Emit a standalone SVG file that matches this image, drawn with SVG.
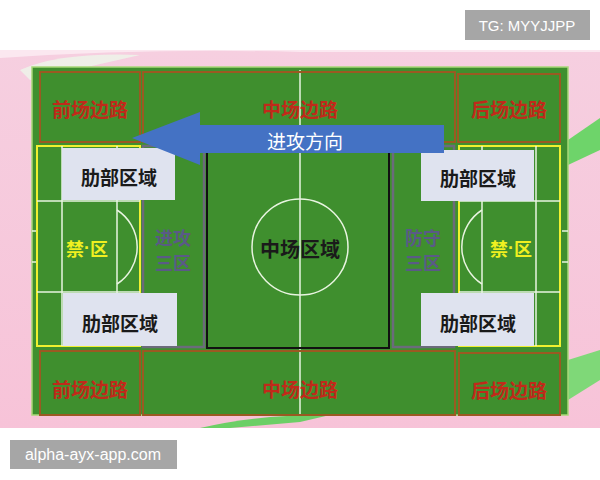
<svg xmlns="http://www.w3.org/2000/svg" width="600" height="480" viewBox="0 0 600 480">
<defs>
<style>
.cjk{font-family:"Noto Sans CJK SC","Noto Sans",sans-serif;font-weight:bold;text-anchor:middle;dominant-baseline:central}
.red{fill:#c02a1a;font-size:19px}
.band{fill:#3f8f2e;stroke:#9a5a22;stroke-width:2}
.wl{stroke:#e8f4e0;stroke-width:1.5;fill:none}
.box{fill:#dfe3ef}
.dark{fill:#1a1a1a;font-size:19px}
.yel{fill:#f0f020;font-size:18px}
.dot{font-family:"Liberation Sans",Arial,sans-serif}
.third{fill:#5a5a86;font-size:18px}
.wm{fill:#a6a6a6}
.wmt{font-family:"Liberation Sans",Arial,sans-serif;fill:#ffffff;font-size:15px}
</style>
<linearGradient id="pk" x1="0" y1="0" x2="0" y2="1">
<stop offset="0" stop-color="#f6cfe0"/>
<stop offset="1" stop-color="#f7c3d8"/>
</linearGradient>
</defs>
<rect width="600" height="480" fill="#ffffff"/>
<g id="background">
<rect x="0" y="50" width="600" height="378" fill="url(#pk)"/>
<path d="M0 58 Q150 48 300 52 L600 52 L600 50 L0 50 Z" fill="#fbe8f0"/>
<path d="M20 70 Q60 52 140 55 L30 80 Z" fill="#eef6ea" opacity="0.8"/>
<path d="M568 140 L600 118 L600 150 L568 165 Z" fill="#6ed46a"/>
<path d="M568 360 L600 350 L600 380 L568 400 Z" fill="#7fd878"/>
<path d="M200 428 Q260 414 330 415 L300 422 L230 428 Z" fill="#6ccf66"/>
</g>
<g id="field">
<rect x="32" y="67" width="536" height="348" fill="#3f8f2e" stroke="#a8d878" stroke-width="1.5"/>
<line x1="300" y1="70" x2="300" y2="415" class="wl"/>
<line x1="32" y1="231" x2="37" y2="231" class="wl"/>
<line x1="32" y1="262" x2="37" y2="262" class="wl"/>
<line x1="562" y1="231" x2="568" y2="231" class="wl"/>
<line x1="562" y1="262" x2="568" y2="262" class="wl"/>
</g>
<g id="top-front-wing">
<rect x="40" y="72" width="100" height="70" class="band"/>
<text x="90" y="108" class="cjk red">前场边路</text>
</g>
<g id="top-mid-wing">
<rect x="143" y="72" width="312" height="70" class="band" fill-opacity="0"/>
<text x="300" y="108" class="cjk red">中场边路</text>
</g>
<g id="top-back-wing">
<rect x="458" y="74" width="102" height="68" class="band"/>
<text x="509" y="108" class="cjk red">后场边路</text>
</g>
<g id="left-penalty">
<rect x="37" y="146" width="103" height="200" fill="none" stroke="#f0f030" stroke-width="2"/>
<line x1="37" y1="201" x2="140" y2="201" class="wl"/>
<line x1="37" y1="292" x2="140" y2="292" class="wl"/>
<line x1="62" y1="146" x2="62" y2="346" class="wl"/>
<line x1="117" y1="146" x2="117" y2="346" class="wl"/>
<path d="M117 210 A44 44 0 0 1 117 284" class="wl"/>
<text x="87" y="248" class="cjk yel">禁<tspan class="dot">·</tspan>区</text>
</g>
<g id="right-penalty">
<rect x="459" y="146" width="101" height="200" fill="none" stroke="#f0f030" stroke-width="2"/>
<line x1="459" y1="201" x2="560" y2="201" class="wl"/>
<line x1="459" y1="292" x2="560" y2="292" class="wl"/>
<line x1="482" y1="146" x2="482" y2="346" class="wl"/>
<line x1="536" y1="146" x2="536" y2="346" class="wl"/>
<path d="M482 210 A44 44 0 0 0 482 284" class="wl"/>
<text x="511" y="248" class="cjk yel">禁<tspan class="dot">·</tspan>区</text>
</g>
<g id="attack-third">
<rect x="143" y="146" width="61" height="201" fill="none" stroke="#6b6b7b" stroke-width="2.5"/>
<text x="173" y="237" class="cjk third">进攻</text>
<text x="173" y="262" class="cjk third">三区</text>
</g>
<g id="defense-third">
<rect x="393" y="146" width="61" height="201" fill="none" stroke="#6b6b7b" stroke-width="2.5"/>
<text x="423" y="237" class="cjk third">防守</text>
<text x="423" y="262" class="cjk third">三区</text>
</g>
<g id="midfield">
<rect x="207" y="148" width="182" height="200" fill="none" stroke="#111111" stroke-width="2"/>
<circle cx="300" cy="247" r="48" class="wl"/>
<text x="300" y="248" class="cjk dark" style="font-size:20px">中场区域</text>
</g>
<g id="left-rib-top">
<rect x="62" y="148" width="113" height="52" class="box"/>
<text x="119" y="176" class="cjk dark">肋部区域</text>
</g>
<g id="left-rib-bottom">
<rect x="63" y="293" width="114" height="53" class="box"/>
<text x="120" y="322" class="cjk dark">肋部区域</text>
</g>
<g id="right-rib-top">
<rect x="421" y="150" width="113" height="51" class="box"/>
<text x="478" y="177" class="cjk dark">肋部区域</text>
</g>
<g id="right-rib-bottom">
<rect x="421" y="293" width="113" height="53" class="box"/>
<text x="478" y="322" class="cjk dark">肋部区域</text>
</g>
<g id="bottom-front-wing">
<rect x="40" y="351" width="100" height="64" class="band"/>
<text x="90" y="388" class="cjk red">前场边路</text>
</g>
<g id="bottom-mid-wing">
<rect x="143" y="351" width="312" height="64" class="band" fill-opacity="0"/>
<text x="300" y="388" class="cjk red">中场边路</text>
</g>
<g id="bottom-back-wing">
<rect x="459" y="353" width="101" height="62" class="band"/>
<text x="509" y="389" class="cjk red">后场边路</text>
</g>
<g id="connectors">
<path d="M132 138 L200 112 L200 125 L444 125 L444 153 L200 153 L200 165 Z" fill="#4472c4"/>
<text x="305" y="140" class="cjk" style="fill:#ffffff;font-size:19px;font-weight:normal">进攻方向</text>
</g>
<g id="watermarks">
<rect x="465" y="10" width="125" height="30" class="wm"/>
<text x="527" y="31" class="wmt" text-anchor="middle">TG: MYYJJPP</text>
<rect x="10" y="440" width="167" height="29" class="wm"/>
<text x="93" y="460" class="wmt" text-anchor="middle" style="font-size:16px">alpha-ayx-app.com</text>
</g>
</svg>
